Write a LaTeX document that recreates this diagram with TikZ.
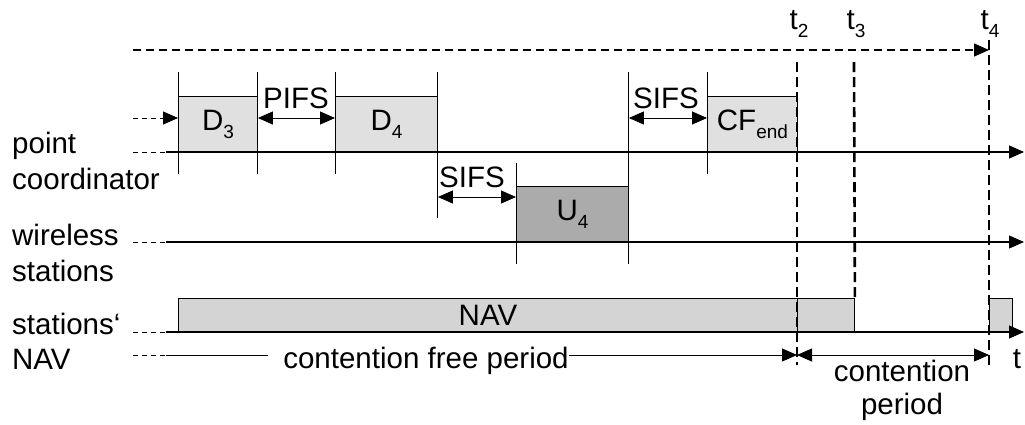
\documentclass[tikz,border=0pt]{standalone}
\usepackage{fontspec}
\setmainfont{Liberation Sans}
\usetikzlibrary{arrows.meta}
\newcommand\sbs[1]{\raisebox{-8pt}{\fontsize{19}{20}\selectfont #1}}
\begin{document}
\begin{tikzpicture}[x=1pt,y=-1pt,
  every node/.style={font=\fontsize{29.5}{33}\selectfont, inner sep=0pt},
  thinl/.style={line width=0.9pt},
  axisl/.style={line width=1.1pt},
  arrowend/.style={-{Triangle[length=15pt,width=13pt]}},
  arrowboth/.style={{Triangle[length=15pt,width=13pt]}-{Triangle[length=15pt,width=13pt]}},
  leader/.style={line width=0.9pt, dash pattern=on 5pt off 4pt},
  topdash/.style={line width=1.3pt, dash pattern=on 8pt off 5pt},
  vdash/.style={line width=2.6pt, dash pattern=on 10pt off 5pt},
  boxlight/.style={draw, line width=0.9pt, fill=black!12, anchor=north west},
  boxdark/.style={draw, line width=0.9pt, fill=black!33, anchor=north west},
  navbox/.style={draw, line width=0.9pt, fill=black!17, anchor=north west},
  lbl/.style={anchor=base west}
]
\useasboundingbox (0,0) rectangle (1025,424);

% ---------- coordinates ----------
\coordinate (topL) at (133,50);   \coordinate (topR) at (989,50);
\coordinate (pcL) at (133,152);   \coordinate (pcM) at (166,152);  \coordinate (pcR) at (1024,152);
\coordinate (inL) at (133,118);   \coordinate (inM) at (166,118);  \coordinate (inR) at (178,118);
\coordinate (wsL) at (133,242);   \coordinate (wsM) at (166,242);  \coordinate (wsR) at (1024,242);
\coordinate (nvL) at (133,332);   \coordinate (nvM) at (166,332);  \coordinate (nvR) at (1024,332);
\coordinate (cfL) at (133,355);   \coordinate (cfM) at (166,355);  \coordinate (cfA) at (268,355);
\coordinate (t2b) at (797,355);   \coordinate (t4b) at (989,355);

% ---------- boxes ----------
\node[boxlight, minimum width=79pt,  minimum height=56pt] (d3) at (178,96) {D\sbs{3}};
\node[boxlight, minimum width=102pt, minimum height=56pt] (d4) at (335,96) {D\sbs{4}};
\node[boxdark,  minimum width=112pt, minimum height=56pt] (u4) at (516,186) {U\sbs{4}};
\node[boxlight, minimum width=90pt,  minimum height=56pt] (cf) at (707,96) {CF\sbs{end}};
\node[navbox,   minimum width=619pt, minimum height=34pt] (nav) at (178,298) {NAV};
\node[navbox,   minimum width=57pt,  minimum height=34pt] (navx) at (797,298) {};
\node[navbox,   minimum width=23pt,  minimum height=34pt] (navt) at (989,298) {};

% ---------- ticks ----------
\coordinate (tkA1) at (178,72);  \coordinate (tkA2) at (178,174);
\coordinate (tkB1) at (257,72);  \coordinate (tkB2) at (257,174);
\coordinate (tkC1) at (335,72);  \coordinate (tkC2) at (335,174);
\coordinate (tkD1) at (437,72);  \coordinate (tkD2) at (437,218);
\coordinate (tkE1) at (516,163); \coordinate (tkE2) at (516,264);
\coordinate (tkF1) at (628,72);  \coordinate (tkF2) at (628,264);
\coordinate (tkG1) at (707,72);  \coordinate (tkG2) at (707,174);
\foreach \k in {A,B,C,D,E,F,G} \draw[thinl] (tk\k1) -- (tk\k2);

% ---------- gap arrows ----------
\draw[thinl, arrowboth] (d3.east |- 0,118) -- (d4.west |- 0,118);
\draw[thinl, arrowboth] (d4.east |- 0,197) -- (u4.west |- 0,197);
\draw[thinl, arrowboth] (u4.east |- 0,118) -- (cf.west |- 0,118);
\node (pifs) at (296,98.5) {PIFS};
\node (sifsb) at (472,177) {SIFS};
\node (sifsa) at (666,98.5) {SIFS};

% ---------- leaders and axes ----------
\draw[topdash, arrowend] (topL) -- (topR);
\draw[leader] (inL) -- (inM);  \draw[thinl, arrowend] (inM) -- (inR);
\draw[leader] (pcL) -- (pcM);  \draw[axisl, arrowend] (pcM) -- (pcR);
\draw[leader] (wsL) -- (wsM);  \draw[axisl, arrowend] (wsM) -- (wsR);
\draw[leader] (nvL) -- (nvM);  \draw[axisl, arrowend] (nvM) -- (nvR);
\draw[leader] (cfL) -- (cfM);  \draw[thinl] (cfM) -- (cfA);

% ---------- periods ----------
\node[anchor=base] (cfp) at (426,368) {contention free period};
\draw[thinl, arrowend] (cfp.east |- t2b) -- (t2b);
\draw[thinl, arrowboth] (t2b) -- (t4b);
\node[anchor=base] (cp1) at (902,381) {contention};
\node[anchor=base] (cp2) at (902,414) {period};

% ---------- time marks ----------
\coordinate (t2top) at (797,62);  \coordinate (t3top) at (854,62);  \coordinate (t4top) at (989,40);
\coordinate (t2bot) at (797,365); \coordinate (t4bot) at (989,365);
\draw[vdash] (t2top) -- (t2bot);
\draw[vdash] (t3top) -- (navx.north east);
\draw[vdash] (t4top) -- (t4bot);
\node[anchor=base] (t2) at (799,29) {t\sbs{2}};
\node[anchor=base] (t3) at (856,29) {t\sbs{3}};
\node[anchor=base] (t4) at (990,29) {t\sbs{4}};
\node[anchor=base] (tt) at (1017,368) {t};

% ---------- row labels ----------
\node[lbl] (l1) at (12,153) {point};
\node[lbl] (l2) at (12,189) {coordinator};
\node[lbl] (l3) at (12,245) {wireless};
\node[lbl] (l4) at (12,281) {stations};
\node[lbl] (l5) at (12,334) {stations‘};
\node[lbl] (l6) at (12,369) {NAV};
\end{tikzpicture}
\end{document}
